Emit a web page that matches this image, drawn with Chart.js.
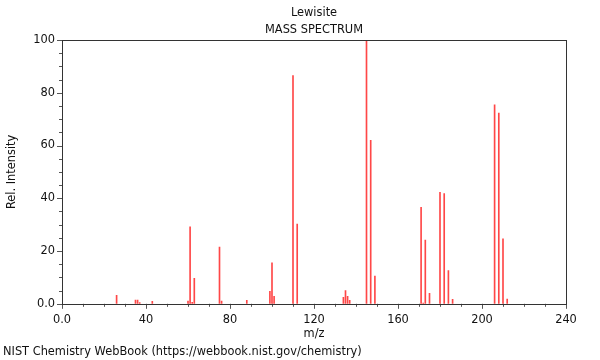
<!DOCTYPE html>
<html lang="en">
<head>
  <meta charset="UTF-8">
  <title>Lewisite - Mass Spectrum</title>
  <script src="https://cdn.jsdelivr.net/npm/chart.js"></script>
  <style>
    html, body { margin: 0; padding: 0; background: #fff; }
    #wrap { width: 600px; height: 360px; }
  </style>
</head>
<body>
  <div id="wrap"><canvas id="spectrum" width="600" height="360"></canvas></div>
  <script>
    // peaks
    const mz = [26, 35, 36, 37, 43, 60, 61, 62, 63, 75, 76, 88, 99, 100, 101, 110, 112,
                134, 135, 136, 137, 145, 147, 149, 171, 172, 173, 175, 180, 182, 184, 186,
                206, 208, 210, 212];
    const intensity = [3.2, 1.4, 1.4, 0.5, 0.9, 1.0, 29.2, 0.6, 9.7, 21.5, 1.0, 1.3, 4.7, 15.5, 2.8, 86.5, 30.2,
                       2.5, 5.0, 2.8, 1.3, 100, 62.0, 10.5, 36.6, 0.3, 24.2, 4.0, 42.3, 41.8, 12.6, 1.7,
                       75.4, 72.3, 24.6, 1.8];
    const xTicks = [0, 40, 80, 120, 160, 200, 240];
    const yTicks = [0, 20, 40, 60, 80, 100];

    const font = { family: 'DejaVu Sans', size: 11.4 };

    // frame box plus major / minor tick marks
    const frame = {
      id: 'frame',
      afterDraw(chart) {
        const { ctx, chartArea: a, scales: { x, y } } = chart;
        ctx.save();
        ctx.strokeStyle = '#555';
        ctx.lineWidth = 1;
        ctx.beginPath();
        for (let v = 0; v <= 240; v += 10) {
          const px = Math.round(x.getPixelForValue(v)) + 0.5;
          const len = v % 40 === 0 ? 5 : 3;
          ctx.moveTo(px, a.bottom);
          ctx.lineTo(px, a.bottom + len);
        }
        for (let v = 0; v <= 100; v += 5) {
          const py = Math.round(y.getPixelForValue(v)) + 0.5;
          const len = v % 20 === 0 ? 5 : 3;
          ctx.moveTo(a.left, py);
          ctx.lineTo(a.left - len, py);
        }
        ctx.stroke();
        ctx.strokeStyle = '#333';
        ctx.strokeRect(Math.round(a.left) + 0.5, Math.round(a.top) + 0.5,
          Math.round(a.right - a.left), Math.round(a.bottom - a.top));
        ctx.restore();
      }
    };

    new Chart(document.getElementById('spectrum'), {
      type: 'bar',
      data: {
        datasets: [{
          data: mz.map((m, i) => ({ x: m, y: intensity[i] })),
          backgroundColor: 'rgba(255, 0, 0, 0.72)',
          borderWidth: 0,
          barThickness: 1,
          grouped: false
        }]
      },
      options: {
        responsive: false,
        animation: false,
        layout: { padding: { left: 3, right: 34, top: 0, bottom: 0 } },
        plugins: {
          legend: { display: false },
          tooltip: { enabled: false },
          title: {
            display: true,
            text: ['Lewisite', 'MASS SPECTRUM'],
            fullSize: false,
            color: '#111',
            font: { family: 'DejaVu Sans', size: 11.4, weight: 'normal', lineHeight: 1.49 },
            padding: { top: 4.5, bottom: 1.5 }
          },
          subtitle: {
            display: true,
            position: 'bottom',
            align: 'start',
            text: 'NIST Chemistry WebBook (https://webbook.nist.gov/chemistry)',
            color: '#111',
            font: { family: 'DejaVu Sans', size: 11.4, lineHeight: 1.2 },
            padding: { top: 1, bottom: 1.5 }
          }
        },
        scales: {
          x: {
            type: 'linear',
            min: 0,
            max: 240,
            offset: false,
            afterFit(s) { s.height = 40; },
            afterBuildTicks(s) { s.ticks = xTicks.map(v => ({ value: v })); },
            grid: { display: false, drawTicks: true, tickLength: 5 },
            border: { display: false },
            ticks: {
              color: '#111',
              font,
              padding: 4,
              maxRotation: 0,
              autoSkip: false,
              callback: v => v === 0 ? '0.0' : String(v)
            },
            title: { display: true, text: 'm/z', color: '#111', font, padding: { top: 0, bottom: 3 } }
          },
          y: {
            min: 0,
            max: 100,
            afterFit(s) { s.width = 59; },
            afterBuildTicks(s) { s.ticks = yTicks.map(v => ({ value: v })); },
            grid: { display: false, drawTicks: true, tickLength: 5 },
            border: { display: false },
            ticks: {
              color: '#111',
              font,
              padding: 2,
              callback: v => v === 0 ? '0.0' : String(v)
            },
            title: { display: true, text: 'Rel. Intensity', color: '#111', font, padding: { top: 2, bottom: 0 } }
          }
        }
      },
      plugins: [frame]
    });
  </script>
</body>
</html>
